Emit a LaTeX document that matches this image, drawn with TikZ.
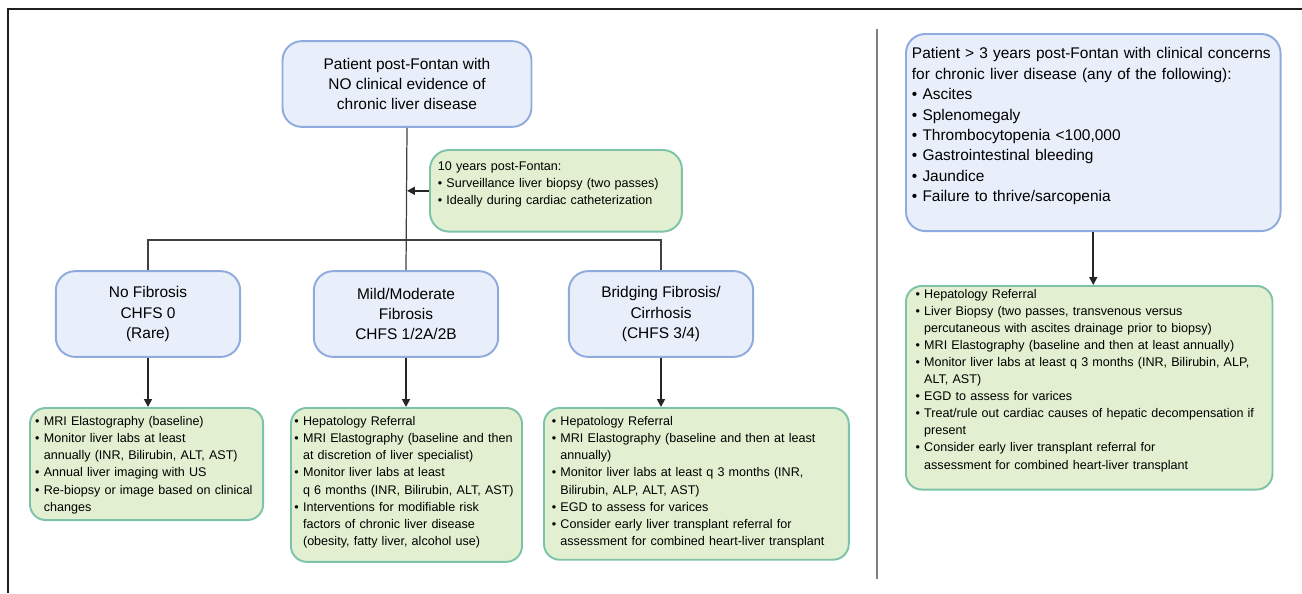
\documentclass[tikz,border=0pt]{standalone}
\usepackage{fontspec}
\setmainfont{Liberation Sans}
\usetikzlibrary{arrows.meta}

\definecolor{bluefill}{HTML}{E9EFFA}
\definecolor{blueline}{HTML}{8FAADC}
\definecolor{greenfill}{HTML}{E3EFD1}
\definecolor{greenline}{HTML}{7DC3A9}

\newcommand{\bigtxt}{\fontsize{8.8}{11.6}\selectfont}
\newcommand{\smalltxt}{\fontsize{7.15}{9.7}\selectfont}
\newcommand{\bul}{\textbullet\ }
\newcommand{\ind}{\phantom{\textbullet\ }}

\tikzset{
	bluebox/.style={draw=blueline, fill=bluefill, line width=1.1pt, rounded corners=11pt, font=\bigtxt},
	levelbox/.style={bluebox, minimum width=104.9pt, minimum height=48.8pt, inner sep=0pt, align=center},
	carebox/.style={draw=greenline, fill=greenfill, line width=1.1pt, rounded corners=9pt, font=\smalltxt, anchor=north west, inner xsep=3pt, inner ysep=5pt, align=left},
	conn/.style={line width=0.7pt, color=black!75},
	arr/.style={line width=1pt, color=black!85, -{Triangle[length=4.5pt,width=4.5pt]}}
}

\begin{document}
\begin{tikzpicture}[x=0.02cm, y=-0.02cm]
			%%%%% START %%%%%
			
			\useasboundingbox (0,0) rectangle (1302,593);
			
			\draw[line width=1.4pt, color=black!88] (7,9) -- (1302,9);
			\draw[line width=1.4pt, color=black!88] (8,9) -- (8,593);
			\draw[line width=0.8pt, color=black!50] (877,29) -- (877,579);
			
			\node[bluebox, minimum width=141.7pt, minimum height=48.8pt, inner sep=0pt, align=center] (top) at (407,84)
				{Patient post-Fontan with\\NO clinical evidence of\\chronic liver disease};
			
			\node[carebox, rounded corners=11pt, inner xsep=4.5pt, inner ysep=6.5pt, text width=134.4pt, text depth=28.5pt] (note) at (429,149)
				{10 years post-Fontan:\\
				\bul Surveillance liver biopsy (two passes)\\
				\bul Ideally during cardiac catheterization};
			
			\node[levelbox] (nofib) at (148,314) {No Fibrosis\\CHFS 0\\(Rare)};
			\node[levelbox] (mild) at (406,314) {Mild/Moderate\\Fibrosis\\CHFS 1/2A/2B};
			\node[levelbox] (bridge) at (661,314) {Bridging Fibrosis/\\Cirrhosis\\(CHFS 3/4)};
			
			\coordinate (bar) at (0,240);
			\draw[conn] (top.south) -- (mild.north);
			\draw[conn] (nofib.north) -- (nofib.north |- bar) -- (bridge.north |- bar) -- (bridge.north);
			\draw[arr] (note.west) -- (note.west -| top.south);
			
			\node[carebox, text width=126.7pt, text depth=48.6pt] (carenone) at (29,407)
				{\bul MRI Elastography (baseline)\\
				\bul Monitor liver labs at least\\
				\ind annually (INR, Bilirubin, ALT, AST)\\
				\bul Annual liver imaging with US\\
				\bul Re-biopsy or image based on clinical\\
				\ind changes};
			
			\node[carebox, inner xsep=2pt, text width=127.5pt, text depth=72.4pt] (caremild) at (290,407)
				{\bul Hepatology Referral\\
				\bul MRI Elastography (baseline and then\\
				\ind at discretion of liver specialist)\\
				\bul Monitor liver labs at least\\
				\ind q 6 months (INR, Bilirubin, ALT, AST)\\
				\bul Interventions for modifiable risk\\
				\ind factors of chronic liver disease\\
				\ind (obesity, fatty liver, alcohol use)};
			
			\node[carebox, inner xsep=4.5pt, text width=164.5pt, text depth=71.2pt] (carebridge) at (543,407)
				{\bul Hepatology Referral\\
				\bul MRI Elastography (baseline and then at least\\
				\ind annually)\\
				\bul Monitor liver labs at least q 3 months (INR,\\
				\ind Bilirubin, ALP, ALT, AST)\\
				\bul EGD to assess for varices\\
				\bul Consider early liver transplant referral for\\
				\ind assessment for combined heart-liver transplant};
			
			\draw[arr] (nofib.south) -- (nofib.south |- carenone.north);
			\draw[arr] (mild.south) -- (mild.south |- caremild.north);
			\draw[arr] (bridge.south) -- (bridge.south |- carebridge.north);
			
			\node[bluebox, anchor=north west, inner xsep=3.4pt, inner ysep=7.8pt, text width=206.4pt, text depth=90.2pt, align=left] (concern) at (905,33)
				{Patient > 3 years post-Fontan with clinical concerns\\
				for chronic liver disease (any of the following):\\
				\bul Ascites\\
				\bul Splenomegaly\\
				\bul Thrombocytopenia <100,000\\
				\bul Gastrointestinal bleeding\\
				\bul Jaundice\\
				\bul Failure to thrive/sarcopenia};
			
			\node[carebox, inner xsep=5.5pt, inner ysep=2pt, text width=197.6pt, text depth=106.7pt] (careconcern) at (905,285)
				{\bul Hepatology Referral\\
				\bul Liver Biopsy (two passes, transvenous versus\\
				\ind percutaneous with ascites drainage prior to biopsy)\\
				\bul MRI Elastography (baseline and then at least annually)\\
				\bul Monitor liver labs at least q 3 months (INR, Bilirubin, ALP,\\
				\ind ALT, AST)\\
				\bul EGD to assess for varices\\
				\bul Treat/rule out cardiac causes of hepatic decompensation if\\
				\ind present\\
				\bul Consider early liver transplant referral for\\
				\ind assessment for combined heart-liver transplant};
			
			\draw[arr] (concern.south) -- (concern.south |- careconcern.north);
			
			%%%%% END %%%%%
		\end{tikzpicture}
\end{document}
